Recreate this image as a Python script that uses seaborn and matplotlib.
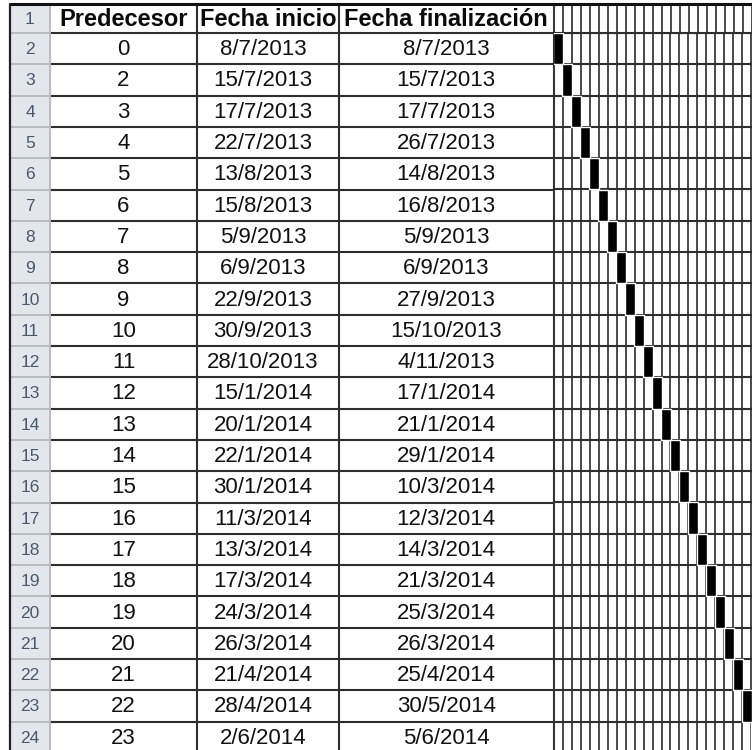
import matplotlib
matplotlib.use("Agg")
import matplotlib.pyplot as plt
import seaborn as sns

headers = ["Predecesor", "Fecha inicio", "Fecha finalización"]
predecesor = [0, 2, 3, 4, 5, 6, 7, 8, 9, 10, 11, 12, 13, 14, 15, 16, 17, 18, 19, 20, 21, 22, 23]
fecha_inicio = ["8/7/2013", "15/7/2013", "17/7/2013", "22/7/2013", "13/8/2013", "15/8/2013",
                "5/9/2013", "6/9/2013", "22/9/2013", "30/9/2013", "28/10/2013", "15/1/2014",
                "20/1/2014", "22/1/2014", "30/1/2014", "11/3/2014", "13/3/2014", "17/3/2014",
                "24/3/2014", "26/3/2014", "21/4/2014", "28/4/2014", "2/6/2014"]
fecha_fin = ["8/7/2013", "15/7/2013", "17/7/2013", "26/7/2013", "14/8/2013", "16/8/2013",
             "5/9/2013", "6/9/2013", "27/9/2013", "15/10/2013", "4/11/2013", "17/1/2014",
             "21/1/2014", "29/1/2014", "10/3/2014", "12/3/2014", "14/3/2014", "21/3/2014",
             "25/3/2014", "26/3/2014", "25/4/2014", "30/5/2014", "5/6/2014"]
gantt_col = [0, 1, 2, 3, 4, 5, 6, 7, 8, 9, 10, 11, 12, 13, 14, 15, 16, 17, 18, 19, 20, 21, 22]
row_numbers = list(range(1, 25))

sns.set_theme(style="white")
plt.rcParams["font.family"] = ["Liberation Sans", "DejaVu Sans"]

W, H = 752, 750
fig = plt.figure(figsize=(W / 100, H / 100), dpi=100)
ax = fig.add_axes([0, 0, 1, 1])
ax.set_xlim(0, W)
ax.set_ylim(H, 0)
ax.axis("off")

# layout (pixels)
x_left, x_rn, x_a, x_b, x_c = 10, 50, 197, 339, 553.5
y_top, y_hdr, rh = 4, 33, 31.3
col_w = 9.0
n = len(predecesor)
y_bottom = y_hdr + n * rh

grid_c = "#2e2e2e"
vgrid_c = "#3c3c3c"
# row-number column background
ax.add_patch(plt.Rectangle((x_left, y_top), x_rn - x_left, y_bottom - y_top,
                           facecolor="#e3e6eb", edgecolor="none", zorder=0))

# horizontal lines
for k in range(n + 1):
    y = y_hdr + k * rh
    ax.plot([x_rn, x_c], [y, y], color=grid_c, lw=1.5, solid_capstyle="butt", zorder=2)
    ax.plot([x_left, x_rn], [y, y], color="#b4b8bf", lw=1.3, zorder=2)
ax.plot([x_left, W], [y_top, y_top], color="#111111", lw=2.2, zorder=3)

# vertical lines
ax.plot([x_left, x_left], [y_top, y_bottom], color="#222222", lw=1.6, zorder=3)
ax.plot([x_rn, x_rn], [y_top, y_bottom], color="#b4b8bf", lw=1.3, zorder=2)
for x in (x_a, x_b, x_c):
    ax.plot([x, x], [y_top, y_bottom], color=grid_c, lw=1.5, zorder=2)

# header texts
hdr_y = (y_top + y_hdr) / 2 + 1
centers = [(x_rn + x_a) / 2, (x_a + x_b) / 2, (x_b + x_c) / 2]
for cx, t in zip(centers, headers):
    ax.text(cx, hdr_y, t, ha="center", va="center", fontsize=17, fontweight="bold",
            color="#0a0a0a")

# row numbers
ax.text((x_left + x_rn) / 2, hdr_y, str(row_numbers[0]), ha="center", va="center",
        fontsize=12.5, color="#4a586c")
for i in range(n):
    cy = y_hdr + (i + 0.5) * rh + 1
    ax.text((x_left + x_rn) / 2, cy, str(row_numbers[i + 1]), ha="center", va="center",
            fontsize=12.5, color="#4a586c")
    ax.text(centers[0], cy, str(predecesor[i]), ha="center", va="center", fontsize=16, color="#111111")
    ax.text(centers[1] - 5, cy, fecha_inicio[i], ha="center", va="center", fontsize=16, color="#111111")
    ax.text(centers[2], cy, fecha_fin[i], ha="center", va="center", fontsize=16, color="#111111")

# header row of gantt area: vertical lines
ncols = 23
for j in range(ncols + 1):
    x = x_c + j * col_w
    ax.plot([x, x], [y_top, y_hdr], color=vgrid_c, lw=1.3, zorder=2)
ax.plot([x_c, W], [y_hdr, y_hdr], color=grid_c, lw=1.5, zorder=2)

# gantt axes in column/row units
gx0 = x_c / W
gw = ncols * col_w / W
gtop = 1 - y_hdr / H
gh = n * rh / H
gax = fig.add_axes([gx0, gtop - gh, gw, gh])
gax.set_xlim(0, ncols)
gax.set_ylim(n - 0.5, -0.5)
gax.axis("off")
for j in range(ncols + 1):
    gax.axvline(j, color=vgrid_c, lw=1.3, zorder=2)
for k in range(n + 1):
    gax.axhline(k - 0.5, color=grid_c, lw=1.5, zorder=2)
gax.barh(list(range(n)), [1.08] * n, left=[c - 0.04 for c in gantt_col], height=1.0,
         color="black", zorder=3)

fig.savefig("out.png", dpi=100)
